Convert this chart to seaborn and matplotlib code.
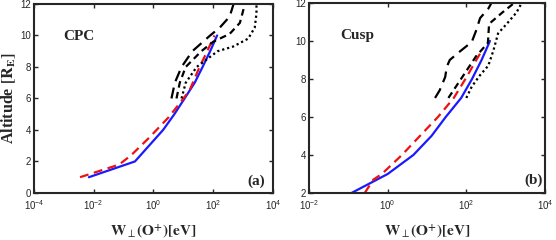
import numpy as np
import matplotlib
matplotlib.use('Agg')
import matplotlib.pyplot as plt
import seaborn as sns
from matplotlib.ticker import NullLocator, FixedLocator

# ---- data (altitude in R_E, W_perp in eV) ----
# panel (a) CPC
alt_blue_a = [1, 2, 4, 5, 6, 7, 8, 9, 10]
w_blue_a = [0.0069, 0.24, 2.1, 5.0, 11, 24, 44, 79, 135]
alt_red_a = [1, 1.8, 2.4, 3.5, 4.8, 5.7, 6.5, 8, 9, 10]
w_red_a = [0.0035, 0.071, 0.18, 0.71, 3.2, 7.6, 16, 35, 63, 110]
alt_k1_a = [6, 7, 8, 9, 10, 10.5, 11.2, 12]
w_k1_a = [4.0, 5.2, 8.7, 20, 79, 166, 355, 480]
alt_k2_a = [6, 7, 8, 9, 9.6, 10.1, 10.8, 12]
w_k2_a = [5.9, 7.6, 12, 40, 100, 355, 780, 1150]
alt_k3_a = [6, 7, 8, 9, 9.3, 9.8, 10.5, 11.4, 12]
w_k3_a = [8.7, 12, 28, 140, 470, 1480, 2450, 2800, 2800]

# panel (b) Cusp
alt_blue_b = [2, 3, 4, 5, 6, 7, 8, 9, 10]
w_blue_b = [0.12, 1.0, 4.5, 13, 30, 74, 140, 245, 400]
alt_red_b = [2, 2.7, 3, 4, 5, 6, 7, 8, 9, 9.5]
w_red_b = [0.26, 0.43, 0.71, 2.3, 6.6, 19, 48, 95, 180, 250]
alt_k1_b = [7, 7.4, 8.1, 8.65, 9, 9.45, 9.95, 10.6, 11.2, 11.7, 12]
w_k1_b = [16, 21, 29, 32, 38, 69, 138, 182, 224, 363, 437]
alt_k2_b = [7, 8.1, 9.2, 9.9, 10.9, 11.5, 12]
w_k2_b = [35, 79, 178, 355, 380, 830, 1660]
alt_k3_b = [7, 7.6, 8.2, 8.7, 9.5, 10.4, 10.9, 11.5, 12]
w_k3_b = [100, 138, 224, 363, 490, 645, 1070, 1900, 2570]

sns.set_style('ticks')
plt.rcParams['font.family'] = ['Liberation Sans', 'DejaVu Sans']
plt.rcParams['mathtext.fontset'] = 'custom'
plt.rcParams['mathtext.rm'] = 'Liberation Sans'
plt.rcParams['mathtext.it'] = 'Liberation Sans:italic'
plt.rcParams['mathtext.bf'] = 'Liberation Sans:bold'

fig = plt.figure(figsize=(5.56, 2.4), dpi=100)
ax_a = fig.add_axes([0.061, 0.196, 0.430, 0.7875])
ax_b = fig.add_axes([0.556, 0.196, 0.424, 0.7917])


def draw(ax, blue, red, k1, k2, k3):
    sns.lineplot(x=blue[1], y=blue[0], ax=ax, sort=False, estimator=None,
                 color='#1a1aff', lw=1.6)
    sns.lineplot(x=red[1], y=red[0], ax=ax, sort=False, estimator=None,
                 color='#ee1111', lw=1.6, linestyle=(0, (4, 2.5)))
    sns.lineplot(x=k1[1], y=k1[0], ax=ax, sort=False, estimator=None,
                 color='black', lw=1.6, linestyle=(0, (5, 3)))
    sns.lineplot(x=k2[1], y=k2[0], ax=ax, sort=False, estimator=None,
                 color='black', lw=1.6, linestyle=(0, (3, 2)))
    sns.lineplot(x=k3[1], y=k3[0], ax=ax, sort=False, estimator=None,
                 color='black', lw=1.6, linestyle=(0, (1, 1.3)))
    ax.set_xscale('log')
    ax.xaxis.set_minor_locator(NullLocator())
    ax.tick_params(direction='in', top=True, right=True, labelsize=7,
                   length=3, width=1, pad=2)
    ax.tick_params(axis='x', pad=4)
    for s in ax.spines.values():
        s.set_linewidth(1.5)


draw(ax_a, (alt_blue_a, w_blue_a), (alt_red_a, w_red_a),
     (alt_k1_a, w_k1_a), (alt_k2_a, w_k2_a), (alt_k3_a, w_k3_a))
draw(ax_b, (alt_blue_b, w_blue_b), (alt_red_b, w_red_b),
     (alt_k1_b, w_k1_b), (alt_k2_b, w_k2_b), (alt_k3_b, w_k3_b))

ax_a.set_xlim(1e-4, 1e4)
ax_a.set_ylim(0, 12)
ax_a.xaxis.set_major_locator(FixedLocator([1e-4, 1e-2, 1, 1e2, 1e4]))
ax_a.set_yticks([0, 2, 4, 6, 8, 10, 12])

ax_b.set_xlim(1e-2, 1e4)
ax_b.set_ylim(2, 12)
ax_b.xaxis.set_major_locator(FixedLocator([1e-2, 1, 1e2, 1e4]))
ax_b.set_yticks([2, 4, 6, 8, 10, 12])

xlab = r'$\mathbf{W}_{\perp}\mathbf{(O^{+})[eV]}$'
for ax in (ax_a, ax_b):
    ax.set_xlabel(xlab, fontsize=11, labelpad=8, math_fontfamily='stix')
ax_b.set_ylabel('')
ax_a.set_ylabel(r'Altitude $\mathbf{[R_E]}$', fontsize=11.5, fontweight='bold',
                family='Liberation Serif', math_fontfamily='stix', labelpad=2)

ax_a.text(0.19, 0.83, 'CPC', transform=ax_a.transAxes, ha='center', va='center',
          family='Liberation Serif', fontweight='bold', fontsize=11)
ax_a.text(0.93, 0.06, '(a)', transform=ax_a.transAxes, ha='center', va='center',
          family='Liberation Serif', fontweight='bold', fontsize=11)
ax_b.text(0.206, 0.83, 'Cusp', transform=ax_b.transAxes, ha='center', va='center',
          family='Liberation Serif', fontweight='bold', fontsize=11)
ax_b.text(0.95, 0.068, '(b)', transform=ax_b.transAxes, ha='center', va='center',
          family='Liberation Serif', fontweight='bold', fontsize=11)

plt.savefig('out.png', dpi=100)
